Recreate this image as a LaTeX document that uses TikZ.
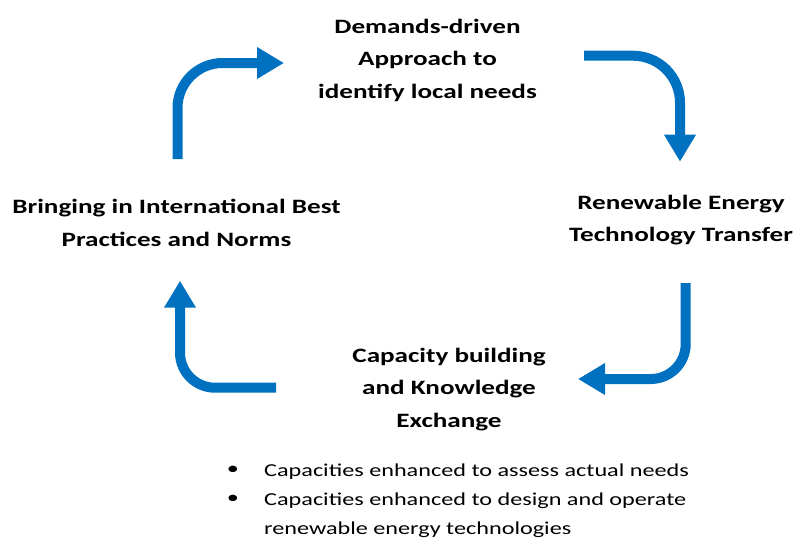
\documentclass[tikz,border=0pt]{standalone}
\usepackage{fontspec}
\setmainfont{Carlito}[FakeStretch=1.33]
\usetikzlibrary{arrows.meta}
\definecolor{cycleblue}{HTML}{0070C0}
\begin{document}
\begin{tikzpicture}[x=1pt,y=-1pt,
  stage/.style={font=\bfseries\fontsize{20.4}{32.5}\selectfont, align=center, anchor=base, inner sep=0pt},
  flow/.style={draw=cycleblue, line width=10pt, -{Triangle[length=27pt,width=30pt]}},
  note/.style={font=\fontsize{18.2}{29}\selectfont, anchor=base west, inner sep=0pt},
  dot/.style={font=\fontsize{18.2}{29}\selectfont, anchor=base, inner sep=0pt}]
\useasboundingbox (0,0) rectangle (797,539);

% the four stages of the cycle (anchored at the baseline of their last line)
\node[stage] (demand)   at (427.5,98)  {Demands-driven\\Approach to\\identify local needs};
\node[stage] (transfer) at (681,241.5) {Renewable Energy\\Technology Transfer};
\node[stage] (capacity) at (449,427)   {Capacity building\\and Knowledge\\Exchange};
\node[stage] (practice) at (176.5,246) {Bringing in International Best\\Practices and Norms};

% bent arrows between the stages
\coordinate (a1s) at (177.5,159);  \coordinate (a1e) at (284,63);
\coordinate (a2s) at (584,55.7);   \coordinate (a2e) at (680,161.7);
\coordinate (a3s) at (685.7,283);  \coordinate (a3e) at (578,379);
\coordinate (a4s) at (276,387.7);  \coordinate (a4e) at (180,280.7);
\draw[flow, rounded corners=45pt] (a1s) |- (a1e);
\draw[flow, rounded corners=47pt] (a2s) -| (a2e);
\draw[flow, rounded corners=35pt] (a3s) |- (a3e);
\draw[flow, rounded corners=35pt] (a4s) -| (a4e);

% outcomes listed below
\node[dot]  (d1) at (233,474) {•};
\node[note] (b1) at (264,476) {Capacities enhanced to assess actual needs};
\node[dot]  (d2) at (233,503) {•};
\node[note] (b2) at (264,505) {Capacities enhanced to design and operate};
\node[note] (b3) at (264,534) {renewable energy technologies};
\end{tikzpicture}
\end{document}
